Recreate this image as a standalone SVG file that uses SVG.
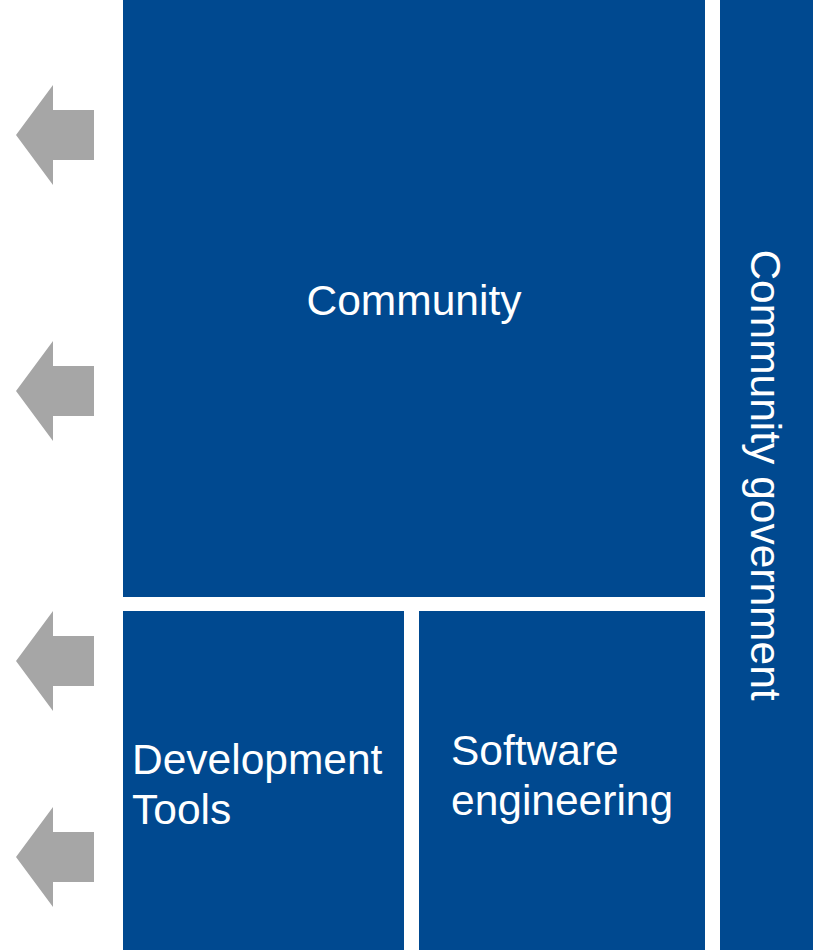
<svg xmlns="http://www.w3.org/2000/svg" width="813" height="950" viewBox="0 0 813 950">
<style>
.box{fill:#004990}
.arrow{fill:#a6a6a6}
.t{font-family:"Liberation Sans",Arial,sans-serif;font-size:42.5px;fill:#ffffff}
</style>
<defs>
<polygon id="arr" points="16,0 53,-50 53,-25 94,-25 94,25 53,25 53,50"/>
</defs>
<rect width="813" height="950" fill="#ffffff"/>
<g id="connectors">
<use href="#arr" class="arrow" y="135"/>
<use href="#arr" class="arrow" y="391"/>
<use href="#arr" class="arrow" y="661"/>
<use href="#arr" class="arrow" y="857"/>
</g>
<g id="community">
<rect class="box" x="123" y="0" width="582" height="597"/>
<text class="t" x="414" y="315" text-anchor="middle">Community</text>
</g>
<g id="devtools">
<rect class="box" x="123" y="611" width="281" height="339"/>
<text class="t" x="132" y="774">Development</text>
<text class="t" x="132" y="824">Tools</text>
</g>
<g id="softeng">
<rect class="box" x="419" y="611" width="286" height="339"/>
<text class="t" x="451" y="765">Software</text>
<text class="t" x="451" y="815">engineering</text>
</g>
<g id="government">
<rect class="box" x="720" y="0" width="93" height="950"/>
<text class="t" transform="translate(751,475) rotate(90)" text-anchor="middle">Community government</text>
</g>
</svg>
